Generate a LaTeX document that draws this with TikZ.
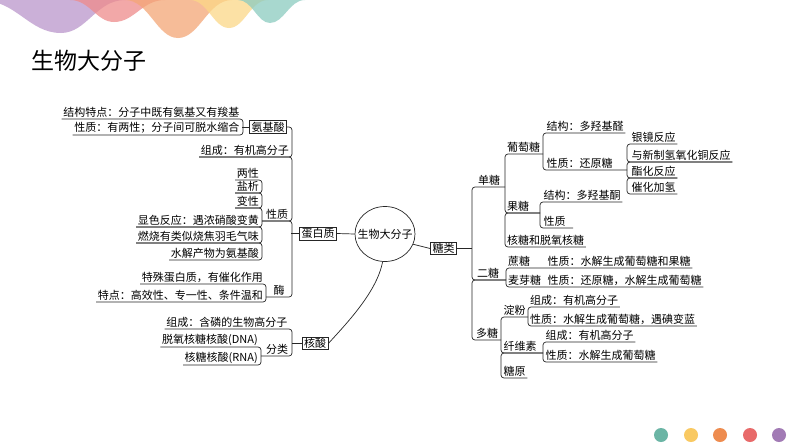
\documentclass[tikz,border=0pt]{standalone}
\usepackage{fontspec}
\setmainfont{Noto Sans CJK SC}
\usetikzlibrary{shapes.geometric}
\newcommand\mapf{\fontsize{11}{13}\selectfont}
\definecolor{wpurple}{RGB}{186,150,203}
\definecolor{wpink}{RGB}{238,139,139}
\definecolor{worange}{RGB}{244,166,118}
\definecolor{wyellow}{RGB}{252,216,135}
\definecolor{wteal}{RGB}{139,203,192}
\definecolor{dteal}{RGB}{107,181,165}
\definecolor{dyellow}{RGB}{249,201,98}
\definecolor{dorange}{RGB}{238,140,79}
\definecolor{dred}{RGB}{232,106,106}
\definecolor{dpurple}{RGB}{162,123,181}
\begin{document}
\begin{tikzpicture}[x=1pt,y=-1pt,
  lt/.style={font=\mapf, inner xsep=1.5pt, inner ysep=1.5pt, anchor=south east},
  rt/.style={font=\mapf, inner xsep=1.5pt, inner ysep=1.5pt, anchor=south west},
  md/.style={font=\mapf, inner xsep=1.5pt, inner ysep=1.5pt, anchor=south},
  bx/.style={draw=black!85, line width=0.7pt, font=\mapf, inner xsep=2pt, inner ysep=1.2pt},
  ln/.style={draw=black!85, line width=0.7pt, rounded corners=3pt},
  wv/.style={fill opacity=0.75, draw=none}]
\fill[white] (0,0) rectangle (794,447);
\useasboundingbox (0,0) rectangle (794,447);
% top waves
\begin{scope}
\clip (0,0) rectangle (794,447);
\fill[wv, wpurple] (-20,0) .. controls (16.5,0) and (28.6,33) .. (61,33) .. controls (86.6,33) and (96.2,0) .. (125,0) -- cycle;
\fill[wv, wpink] (70,0) .. controls (89.8,0) and (96.4,22) .. (114,22) .. controls (134.4,22) and (142,0) .. (165,0) -- cycle;
\fill[wv, worange] (125,0) .. controls (148.9,0) and (156.8,38) .. (178,38) .. controls (199.6,38) and (207.7,0) .. (232,0) -- cycle;
\fill[wv, wyellow] (190,0) .. controls (207.6,0) and (213.4,28) .. (229,28) .. controls (244.6,28) and (250.5,0) .. (268,0) -- cycle;
\fill[wv, wteal] (238,0) .. controls (252.4,0) and (257.2,23) .. (270,23) .. controls (284,23) and (289.3,0) .. (305,0) -- cycle;
\end{scope}
% title
\node[font=\fontsize{23}{26}\selectfont, anchor=west, inner sep=0pt] (title) at (31,61) {生物大分子};
% bottom dots
\fill[dteal] (661,435) circle[radius=7pt];
\fill[dyellow] (691,435) circle[radius=7pt];
\fill[dorange] (720,435) circle[radius=7pt];
\fill[dred] (750,435) circle[radius=7pt];
\fill[dpurple] (779,435) circle[radius=7pt];
% centre
\node[draw=black!85, line width=0.7pt, ellipse, minimum width=60pt, minimum height=55pt, inner sep=0pt] (core) at (385,234) {};
\node[font=\mapf, inner sep=0pt] (coret) at (core.center) {生物大分子};
% main boxes
\node[bx] (aa) at (268,127) {氨基酸};
\node[bx] (dbz) at (318,233.5) {蛋白质};
\node[bx] (hs) at (315,343.5) {核酸};
\node[bx] (tl) at (443.5,248.5) {糖类};
\draw[ln] (dbz.east) -- (core.west);
\draw[ln] (core.-20) -- (tl.west);
\draw[ln] (core.-95) .. controls (377,292) and (346,324) .. (hs.east);
% amino acid
\node[lt] (a1) at (241,119) {结构特点：分子中既有氨基又有羧基};
\node[lt] (a2) at (241,135) {性质：有两性；分子间可脱水缩合};
\draw[ln] (a1.south west) -- (243,119) -- (243,135) -- (a2.south west);
\draw[ln] (aa.west) -- +(-7,0);
% protein trunk
\node[lt] (b1) at (290.5,157) {组成：有机高分子};
\node[md] (xz) at (277,221) {性质};
\node[md] (mei) at (279,297) {酶};
\draw[ln] (aa.east) -- (292,127) -- (292,157) -- (b1.south west);
\draw[ln] (b1.south west) -- (292,157) -- (292,221) -- (262,221);
\draw[ln] (262,221) -- (292,221) -- (292,297) -- (266,297);
\draw[ln] (dbz.west) -- +(-8,0);
% protein properties
\node[lt] (p1) at (260.5,180) {两性};
\node[lt] (p2) at (260.5,193) {盐析};
\node[lt] (p3) at (260.5,208) {变性};
\node[lt] (p4) at (260.5,227) {显色反应：遇浓硝酸变黄};
\node[lt] (p5) at (260.5,243) {燃烧有类似烧焦羽毛气味};
\node[lt] (p6) at (260.5,260) {水解产物为氨基酸};
\draw[ln] (p1.south west) -- (262,180) -- (262,193) -- (p2.south west);
\draw[ln] (p2.south west) -- (262,193) -- (262,208) -- (p3.south west);
\draw[ln] (p3.south west) -- (262,208) -- (262,227) -- (p4.south west);
\draw[ln] (p4.south west) -- (262,227) -- (262,243) -- (p5.south west);
\draw[ln] (p5.south west) -- (262,243) -- (262,260) -- (p6.south west);
% enzyme
\node[lt] (m1) at (264.5,284) {特殊蛋白质，有催化作用};
\node[lt] (m2) at (264.5,302) {特点：高效性、专一性、条件温和};
\draw[ln] (m1.south west) -- (266,284) -- (266,302) -- (m2.south west);
% nucleic acid
\node[lt] (n1) at (289,329) {组成：含磷的生物高分子};
\node[md] (fl) at (277,356) {分类};
\draw[ln] (n1.south west) -- (292,329) -- (292,356) -- (261,356);
\draw[ln] (hs.west) -- +(-10,0);
\node[lt] (d1) at (259.5,347) {脱氧核糖核酸(DNA)};
\node[lt] (d2) at (259.5,365) {核糖核酸(RNA)};
\draw[ln] (d1.south west) -- (261,347) -- (261,365) -- (d2.south west);
% sugars trunk
\draw[ln] (tl.east) -- (472,248.5);
\node[md] (dt) at (489,187) {单糖};
\node[md] (et) at (488,280) {二糖};
\node[md] (duo) at (487,340) {多糖};
\draw[ln] (505,187) -- (472,187) -- (472,280) -- (506,280);
\draw[ln] (506,280) -- (472,280) -- (472,340) -- (501,340);
% monosaccharides
\node[rt] (pt) at (505.5,154) {葡萄糖};
\node[rt] (gt) at (505.5,213) {果糖};
\node[rt] (hr) at (505.5,247) {核糖和脱氧核糖};
\draw[ln] (543,154) -- (505,154) -- (505,213) -- (540,213);
\draw[ln] (540,213) -- (505,213) -- (505,247) -- (hr.south east);
\node[rt] (s1) at (545,133) {结构：多羟基醛};
\node[rt] (s2) at (545,170) {性质：还原糖};
\draw[ln] (s1.south east) -- (543,133) -- (543,170) -- (627,170);
\node[rt] (r1) at (630,144) {银镜反应};
\node[rt] (r2) at (630,162) {与新制氢氧化铜反应};
\node[rt] (r3) at (630,178) {酯化反应};
\node[rt] (r4) at (630,194) {催化加氢};
\draw[ln] (r1.south east) -- (627,144) -- (627,162) -- (r2.south east);
\draw[ln] (r2.south east) -- (627,162) -- (627,178) -- (r3.south east);
\draw[ln] (r3.south east) -- (627,178) -- (627,194) -- (r4.south east);
\node[rt] (f1) at (542,202) {结构：多羟基酮};
\node[rt] (f2) at (542,228) {性质};
\draw[ln] (f1.south east) -- (540,202) -- (540,228) -- (573,228);
% disaccharides
\node[rt] (zt) at (506.5,268) {蔗糖};
\node[rt] (zx) at (546,268) {性质：水解生成葡萄糖和果糖};
\node[rt] (my) at (506.5,287) {麦芽糖};
\node[rt] (mx) at (546,287) {性质：还原糖，水解生成葡萄糖};
\draw[ln] (zx.south east) -- (506,268) -- (506,287) -- (mx.south east);
% polysaccharides
\node[rt] (df) at (502,317) {淀粉};
\node[rt] (xw) at (502,353) {纤维素};
\node[rt] (ty) at (502,378) {糖原};
\draw[ln] (528,317) -- (501,317) -- (501,353) -- (543,353);
\draw[ln] (543,353) -- (501,353) -- (501,378) -- (ty.south east);
\node[rt] (c1) at (528.5,307) {组成：有机高分子};
\node[rt] (c2) at (528.5,326) {性质：水解生成葡萄糖，遇碘变蓝};
\draw[ln] (c1.south east) -- (528,307) -- (528,326) -- (c2.south east);
\node[rt] (w1) at (544,342) {组成：有机高分子};
\node[rt] (w2) at (544,362) {性质：水解生成葡萄糖};
\draw[ln] (w1.south east) -- (543,342) -- (543,362) -- (w2.south east);
\end{tikzpicture}
\end{document}
